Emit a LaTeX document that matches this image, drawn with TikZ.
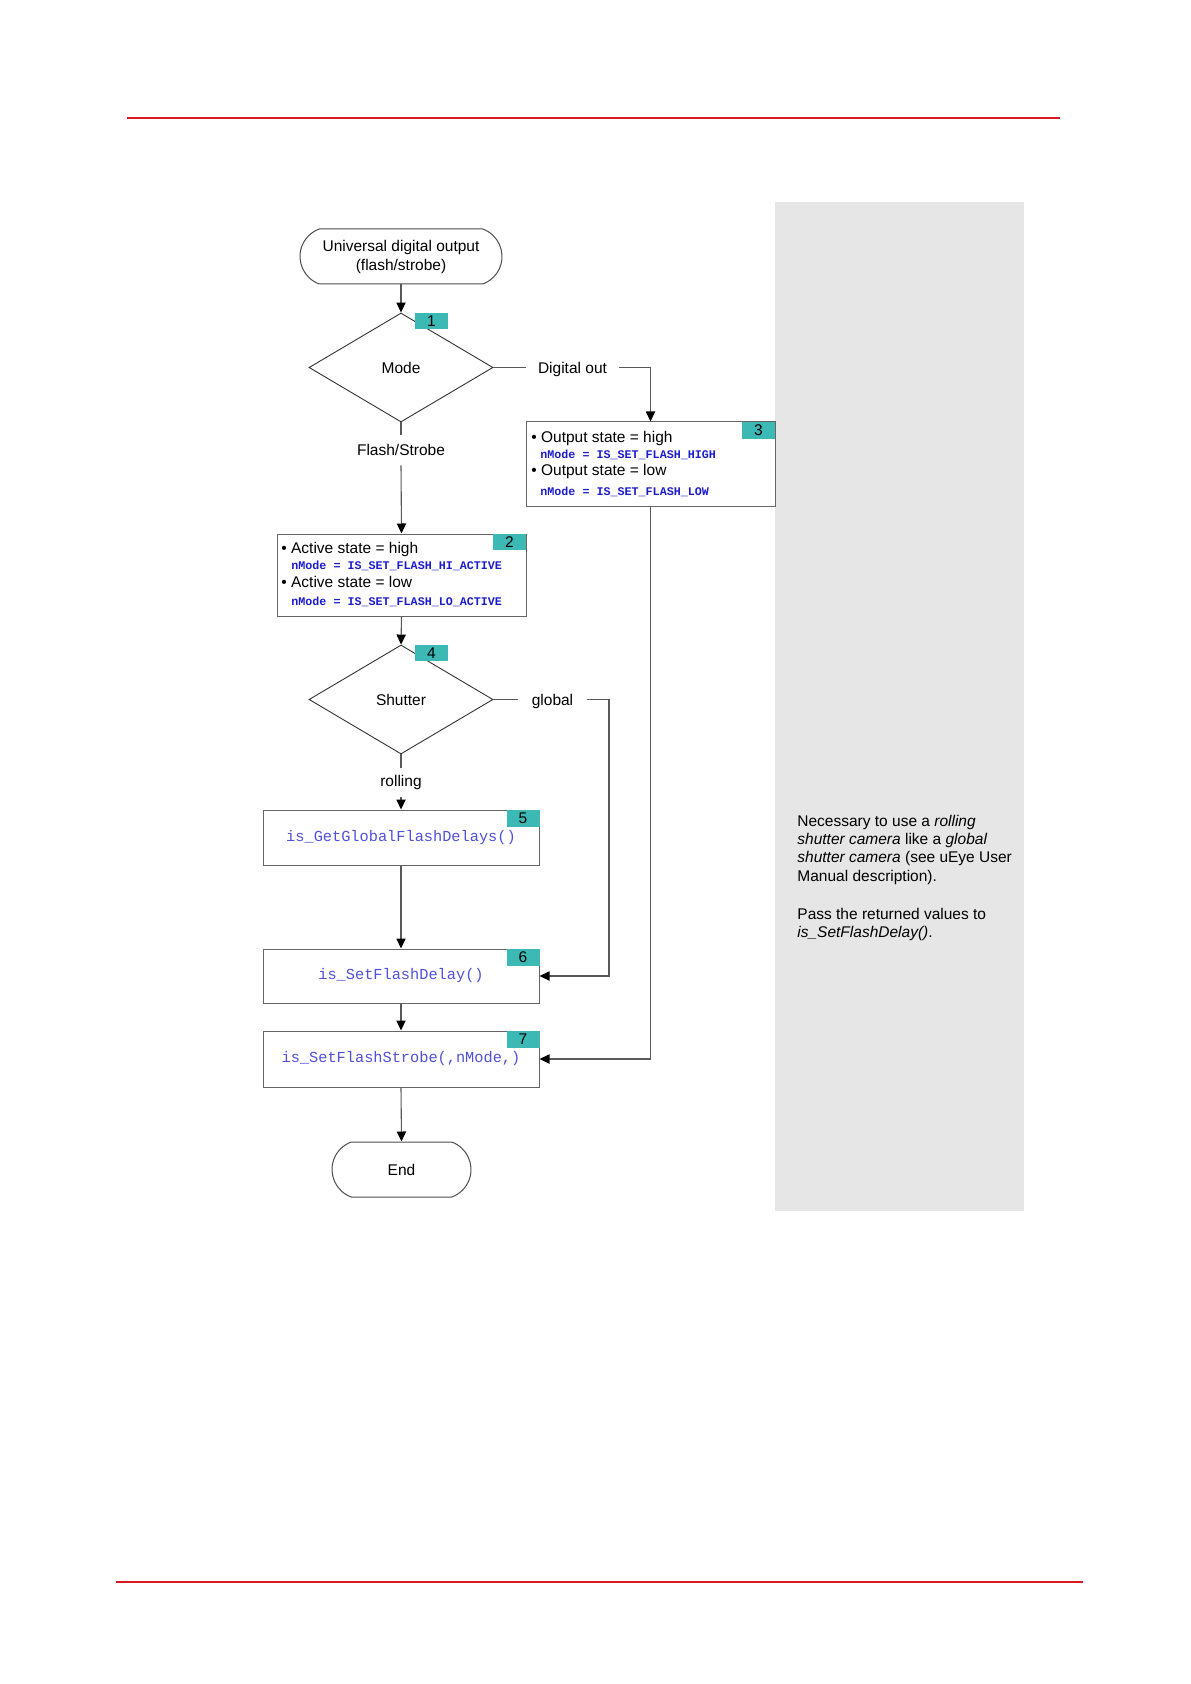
\documentclass[tikz,border=0pt]{standalone}
\usepackage{fontspec}
\setmainfont{Liberation Sans}
\newfontfamily\monofont{Liberation Mono}
\usetikzlibrary{shapes.geometric,shapes.misc,arrows.meta}
\definecolor{badgeteal}{RGB}{60,185,180}
\definecolor{redline}{RGB}{218,24,32}
\definecolor{panelgray}{RGB}{230,230,230}
\definecolor{funcblue}{RGB}{80,80,218}
\definecolor{modeblue}{RGB}{28,28,205}
\begin{document}
\begin{tikzpicture}[x=0.5pt,y=-0.5pt,
  font=\fontsize{7.75}{9.5}\selectfont,
  conn/.style={draw=black!65, line width=0.55pt},
  arr/.style={conn, -{Triangle[length=5pt,width=4.6pt,color=black]}},
  box/.style={draw=black!60, line width=0.5pt, rectangle, inner sep=0pt, fill=white},
  term/.style={draw=black!70, line width=0.5pt, rounded rectangle, rounded rectangle arc length=140, inner sep=0pt, align=center, fill=white},
  dec/.style={draw=black!80, line width=0.45pt, diamond, inner sep=0pt, fill=white},
  badge/.style={fill=badgeteal, inner sep=0pt, minimum width=16.5pt, minimum height=8.3pt},
  lbl/.style={inner sep=0pt},
  func/.style={font=\monofont\fontsize{7.65}{9}\selectfont, text=funcblue},
  modetxt/.style={inner sep=0pt, anchor=west, font=\monofont\bfseries\fontsize{5.85}{7}\selectfont, text=modeblue},
  bul/.style={inner sep=0pt, anchor=west},
  side/.style={inner sep=0pt, anchor=base west}
]
\useasboundingbox (0,0) rectangle (1190,1684);

% page decoration
\draw[redline, line width=0.75pt] (127,118) -- (1060,118);
\draw[redline, line width=1pt] (116,1582) -- (1083,1582);
\fill[panelgray] (775,202) rectangle (1024,1211);

% flowchart nodes
\node[term, minimum width=101pt, minimum height=27.5pt] (start) at (401,256.5) {Universal digital output\\(flash/strobe)};

\node[dec, minimum width=92pt, minimum height=54.5pt] (d1) at (401,367.5) {Mode};
\node[badge] (n1) at (431.5,321) {1};

\node[box, minimum width=124.5pt, minimum height=42pt] (b3) at (650.5,464) {};
\node[badge, minimum height=8.5pt] (n3) at (758.5,430.5) {3};
\node[bul] (b3a) at (531,438) {• Output state = high};
\node[modetxt] (b3b) at (540,455) {nMode = IS\_SET\_FLASH\_HIGH};
\node[bul] (b3c) at (531,471) {• Output state = low};
\node[modetxt] (b3d) at (540,492) {nMode = IS\_SET\_FLASH\_LOW};

\node[box, minimum width=124.5pt, minimum height=41pt] (b2) at (401.5,575) {};
\node[badge] (n2) at (509.5,542) {2};
\node[bul] (b2a) at (281,549) {• Active state = high};
\node[modetxt] (b2b) at (291,566) {nMode = IS\_SET\_FLASH\_HI\_ACTIVE};
\node[bul] (b2c) at (281,582) {• Active state = low};
\node[modetxt] (b2d) at (291,602) {nMode = IS\_SET\_FLASH\_LO\_ACTIVE};

\node[dec, minimum width=92pt, minimum height=54.5pt] (d2) at (401,699.5) {Shutter};
\node[badge] (n4) at (431.5,653) {4};

\node[box, func, minimum width=138pt, minimum height=27.5pt] (b5) at (401,837.5) {is\_GetGlobalFlashDelays()};
\node[badge] (n5) at (523,818.5) {5};

\node[box, func, minimum width=138pt, minimum height=27pt] (b6) at (401,976) {is\_SetFlashDelay()};
\node[badge] (n6) at (523,957.5) {6};

\node[box, func, minimum width=138pt, minimum height=28pt] (b7) at (401,1059) {is\_SetFlashStrobe(,nMode,)};
\node[badge] (n7) at (523,1039.5) {7};

\node[term, minimum width=69.5pt, minimum height=27.5pt] (end) at (401.5,1169.5) {End};

% branch labels
\node[lbl, inner xsep=6pt] (ldig) at (572.5,369) {Digital out};
\node[lbl, minimum height=15pt] (lfs) at (401,450) {Flash/Strobe};
\node[lbl, inner xsep=6.5pt] (lglob) at (552.5,701) {global};
\node[lbl, minimum height=14.5pt] (lroll) at (401,782.5) {rolling};
\coordinate (gx) at (609,976);

% connectors
\draw[arr] (start.south) -- (d1.north);
\draw[conn] (d1.east) -- (d1.east -| ldig.west);
\draw[arr] (d1.east -| ldig.east) -| (b3.north);
\draw[conn] (d1.south) -- (lfs.north);
\draw[arr] (lfs.south) -- (b2.north);
\draw[arr] (b2.south) -- (d2.north);
\draw[conn] (d2.east) -- (d2.east -| lglob.west);
\draw[arr] (d2.east -| lglob.east) -| (gx) -- (b6.east);
\draw[conn] (d2.south) -- (lroll.north);
\draw[arr] (lroll.south) -- (b5.north);
\draw[arr] (b5.south) -- (b6.north);
\draw[arr] (b6.south) -- (b7.north);
\draw[arr] (b3.south) |- (b7.east);
\draw[arr] (b7.south) -- (end.north);

% side note
\node[side] (s1) at (797,826.5) {Necessary to use a \textit{rolling}};
\node[side] (s2) at (797,844.7) {\textit{shutter camera} like a \textit{global}};
\node[side] (s3) at (797,862.9) {\textit{shutter camera} (see uEye User};
\node[side] (s4) at (797,881.1) {Manual description).};
\node[side] (s5) at (797,919.5) {Pass the returned values to};
\node[side] (s6) at (797,937.7) {\textit{is\_SetFlashDelay()}.};
\end{tikzpicture}
\end{document}
